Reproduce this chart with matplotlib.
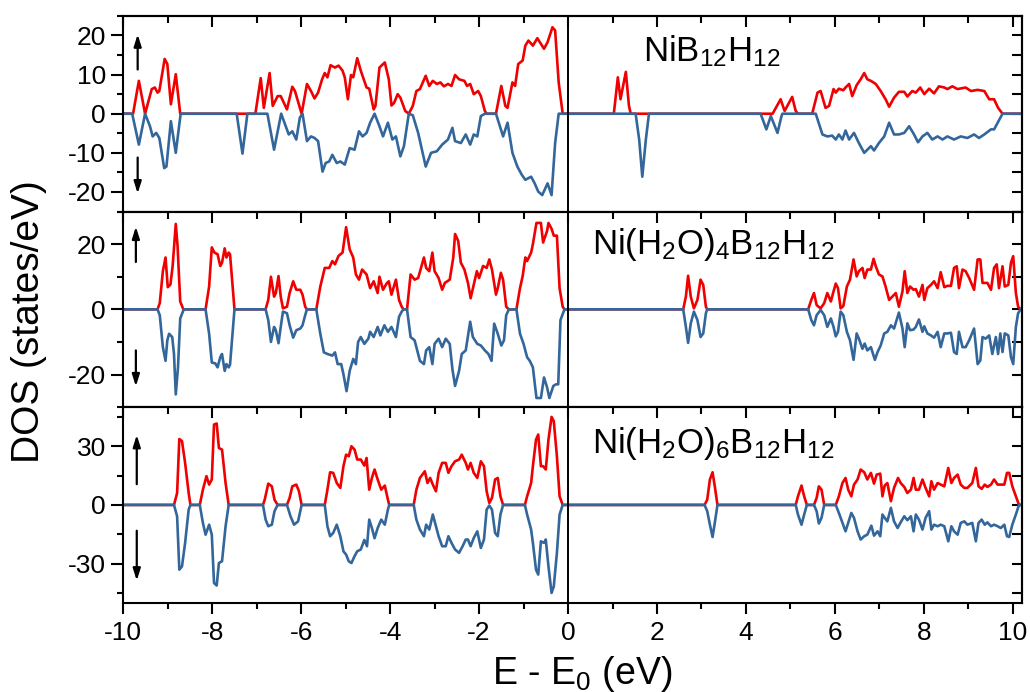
import numpy as np
import matplotlib
matplotlib.use('Agg')
import matplotlib.pyplot as plt
from matplotlib.ticker import MultipleLocator

plt.rcParams['font.family'] = ['Liberation Sans', 'DejaVu Sans']
plt.rcParams['mathtext.default'] = 'regular'
plt.rcParams['axes.unicode_minus'] = False

# spin-resolved DOS, (E - E0 [eV], DOS [states/eV])
# NiB12H12
up1 = [(-10, 0), (-9.78, 0), (-9.65, 8.4), (-9.51, 0), (-9.36, 6.3), (-9.29, 6.7), (-9.23, 5.4), (-9.19, 5.8),
       (-9.07, 14.0), (-9.01, 12.7), (-8.93, 2.4), (-8.82, 10.1), (-8.72, 0), (-7.03, 0), (-6.91, 9.1),
       (-6.84, 1.5), (-6.71, 10.4), (-6.64, 2.0), (-6.53, 4.5), (-6.46, 4.5), (-6.32, 1.1), (-6.20, 6.9),
       (-6.14, 5.8), (-5.99, 0), (-5.87, 7.6), (-5.78, 5.8), (-5.70, 3.9), (-5.62, 5.4), (-5.53, 8.8),
       (-5.47, 10.4), (-5.41, 9.3), (-5.34, 12.4), (-5.24, 11.8), (-5.16, 12.3), (-5.07, 11.0), (-5.02, 9.3),
       (-4.95, 3.7), (-4.88, 9.9), (-4.83, 9.3), (-4.74, 14.2), (-4.66, 11.0), (-4.53, 6.7), (-4.47, 6.4),
       (-4.37, 1.1), (-4.33, 2.0), (-4.24, 11.8), (-4.12, 13.1), (-4.03, 8.8), (-3.97, 2.1), (-3.91, 2.8),
       (-3.83, 5.0), (-3.77, 4.1), (-3.66, 0.7), (-3.58, 0), (-3.49, 2.0), (-3.41, 5.8), (-3.33, 6.3),
       (-3.20, 9.7), (-3.12, 7.1), (-3.04, 8.4), (-2.95, 7.6), (-2.87, 8.0), (-2.79, 7.0), (-2.70, 7.6),
       (-2.62, 7.1), (-2.54, 9.9), (-2.45, 8.8), (-2.33, 8.4), (-2.27, 7.1), (-2.20, 7.6), (-2.12, 5.0),
       (-2.02, 5.8), (-1.96, 4.5), (-1.87, 0.7), (-1.83, 0), (-1.62, 0), (-1.50, 7.1), (-1.41, 2.0),
       (-1.36, 1.5), (-1.25, 8.0), (-1.19, 7.1), (-1.12, 12.7), (-1.02, 13.6), (-0.96, 17.4), (-0.89, 18.7),
       (-0.79, 17.4), (-0.69, 19.3), (-0.54, 16.6), (-0.46, 18.3), (-0.35, 22.1), (-0.29, 21.3), (-0.21, 8.0),
       (-0.12, 0), (1.03, 0), (1.12, 9.3), (1.18, 3.7), (1.30, 10.7), (1.37, 2.0), (1.41, 0), (4.60, 0),
       (4.78, 3.7), (4.87, 0.7), (5.04, 4.3), (5.12, 0.7), (5.17, 0), (5.49, 0), (5.61, 5.4), (5.68, 5.8),
       (5.79, 1.5), (5.87, 2.0), (5.97, 6.3), (6.02, 5.4), (6.09, 6.4), (6.19, 6.0), (6.24, 6.7), (6.32, 7.6),
       (6.39, 4.5), (6.49, 7.3), (6.58, 8.8), (6.66, 10.4), (6.73, 8.8), (6.81, 8.4), (6.92, 7.6), (7.03, 5.8),
       (7.14, 3.7), (7.22, 1.8), (7.33, 4.1), (7.44, 5.6), (7.56, 5.6), (7.63, 4.4), (7.74, 5.8), (7.82, 5.4),
       (7.92, 6.7), (8.01, 5.0), (8.12, 6.4), (8.23, 5.2), (8.34, 7.0), (8.46, 6.7), (8.53, 6.3), (8.64, 7.0),
       (8.76, 6.3), (8.94, 6.7), (9.06, 5.8), (9.21, 6.1), (9.36, 5.8), (9.47, 3.7), (9.58, 3.7), (9.67, 1.5),
       (9.77, 0), (10.2, 0)]
dn1 = [(-10, 0), (-9.80, 0), (-9.65, -7.9), (-9.51, 0), (-9.40, -3.2), (-9.34, -5.8), (-9.26, -4.9),
       (-9.19, -6.2), (-9.08, -13.9), (-9.03, -13.5), (-8.93, -1.9), (-8.82, -10.0), (-8.71, 0), (-7.45, 0),
       (-7.32, -10.2), (-7.21, 0), (-6.76, 0), (-6.61, -9.2), (-6.45, 0), (-6.28, -5.3), (-6.20, -4.5),
       (-6.11, -6.6), (-6.03, -1.0), (-5.97, 0), (-5.87, -7.0), (-5.78, -5.8), (-5.70, -6.2), (-5.62, -7.0),
       (-5.52, -14.8), (-5.45, -12.6), (-5.37, -12.2), (-5.30, -10.5), (-5.20, -12.6), (-5.12, -12.2),
       (-5.02, -13.0), (-4.91, -8.8), (-4.80, -9.2), (-4.70, -4.5), (-4.62, -5.8), (-4.53, -4.9),
       (-4.45, -2.3), (-4.35, 0), (-4.24, -3.2), (-4.16, -5.8), (-4.05, -2.3), (-3.95, -6.6), (-3.87, -5.8),
       (-3.77, -10.9), (-3.69, -8.3), (-3.58, 0), (-3.49, -0.4), (-3.37, -4.9), (-3.20, -13.5), (-3.08, -10.0),
       (-2.95, -9.6), (-2.83, -7.9), (-2.70, -6.6), (-2.60, -3.6), (-2.54, -7.0), (-2.41, -7.5), (-2.30, -5.3),
       (-2.20, -7.9), (-2.12, -5.3), (-2.04, -5.8), (-1.96, -0.6), (-1.87, 0), (-1.62, 0), (-1.46, -5.8),
       (-1.36, -2.3), (-1.25, -10.0), (-1.14, -13.5), (-1.04, -15.6), (-0.96, -16.9), (-0.83, -16.1),
       (-0.75, -17.8), (-0.67, -19.9), (-0.58, -20.8), (-0.46, -17.8), (-0.37, -20.8), (-0.29, -7.5),
       (-0.21, 0), (1.52, 0), (1.60, -6.6), (1.67, -16.1), (1.75, -6.6), (1.82, 0), (4.33, 0), (4.46, -4.0),
       (4.56, -0.6), (4.71, -4.9), (4.80, -0.6), (4.82, 0), (5.57, 0), (5.72, -5.3), (5.83, -5.8), (5.94, -5.6),
       (6.02, -6.6), (6.09, -5.3), (6.17, -6.6), (6.24, -4.3), (6.32, -6.6), (6.43, -4.9), (6.54, -7.5),
       (6.66, -10.0), (6.73, -9.2), (6.81, -8.3), (6.88, -9.4), (6.99, -7.5), (7.11, -5.8), (7.22, -2.3),
       (7.33, -5.3), (7.44, -5.3), (7.56, -4.9), (7.67, -3.2), (7.78, -5.3), (7.87, -7.3), (7.97, -5.8),
       (8.08, -4.9), (8.19, -6.6), (8.31, -5.8), (8.42, -6.6), (8.53, -5.8), (8.68, -6.6), (8.83, -5.8),
       (8.98, -6.2), (9.13, -5.3), (9.24, -6.2), (9.36, -5.3), (9.51, -4.0), (9.58, -4.0), (9.66, -2.3),
       (9.77, 0), (10.2, 0)]

# Ni(H2O)4B12H12
up2 = [(-10, 0), (-9.23, 0), (-9.18, 1.9), (-9.11, 11.7), (-9.05, 15.9), (-9.00, 6.8), (-8.94, 7.6),
       (-8.89, 13.3), (-8.82, 26.2), (-8.78, 19.5), (-8.72, 2.4), (-8.65, 0), (-8.15, 0), (-8.07, 7.0),
       (-8.01, 19.0), (-7.95, 17.4), (-7.88, 16.9), (-7.82, 13.3), (-7.78, 14.3), (-7.72, 18.7), (-7.68, 15.9),
       (-7.63, 17.4), (-7.60, 16.9), (-7.50, 0), (-6.80, 0), (-6.74, 2.9), (-6.68, 10.0), (-6.61, 3.9),
       (-6.57, 5.0), (-6.51, 10.2), (-6.46, 3.9), (-6.41, 0.3), (-6.32, 0.8), (-6.26, 5.0), (-6.18, 8.6),
       (-6.11, 6.0), (-6.02, 6.0), (-5.97, 4.5), (-5.91, 0.8), (-5.87, 0), (-5.66, 0), (-5.57, 7.0),
       (-5.47, 12.7), (-5.37, 12.7), (-5.30, 14.8), (-5.24, 13.8), (-5.16, 16.4), (-5.07, 17.4), (-4.99, 25.2),
       (-4.91, 18.4), (-4.83, 15.9), (-4.77, 10.7), (-4.70, 9.1), (-4.63, 12.2), (-4.53, 10.7), (-4.45, 6.5),
       (-4.37, 8.6), (-4.28, 5.0), (-4.24, 10.0), (-4.16, 6.0), (-4.08, 7.9), (-4.03, 8.6), (-3.97, 4.5),
       (-3.87, 9.1), (-3.80, 2.9), (-3.74, 0.8), (-3.70, 0), (-3.62, 0), (-3.54, 10.7), (-3.45, 9.1),
       (-3.37, 9.6), (-3.24, 15.9), (-3.19, 12.7), (-3.12, 11.7), (-3.05, 17.4), (-3.00, 11.7), (-2.91, 9.6),
       (-2.83, 6.0), (-2.77, 8.1), (-2.66, 9.1), (-2.58, 15.9), (-2.54, 23.1), (-2.47, 21.0), (-2.41, 14.3),
       (-2.33, 12.2), (-2.25, 8.1), (-2.19, 3.4), (-2.12, 7.6), (-2.05, 11.7), (-2.00, 9.6), (-1.91, 13.3),
       (-1.83, 12.7), (-1.77, 15.3), (-1.71, 12.2), (-1.62, 4.5), (-1.58, 6.5), (-1.51, 11.2), (-1.46, 9.1),
       (-1.39, 0.8), (-1.33, 0), (-1.16, 0), (-1.08, 6.5), (-1.02, 10.2), (-0.96, 15.9), (-0.92, 14.8),
       (-0.83, 17.4), (-0.79, 20.0), (-0.71, 26.5), (-0.61, 26.5), (-0.56, 20.5), (-0.47, 24.1), (-0.44, 26.5),
       (-0.37, 24.7), (-0.32, 22.6), (-0.25, 22.6), (-0.19, 6.5), (-0.12, 0.8), (-0.08, 0), (2.59, 0),
       (2.65, 3.9), (2.70, 10.3), (2.76, 3.9), (2.83, 0.3), (2.91, 2.9), (2.98, 9.1), (3.04, 7.5), (3.10, 0.8),
       (3.13, 0), (5.40, 0), (5.47, 2.9), (5.53, 5.0), (5.59, 1.3), (5.68, 0.3), (5.76, 1.9), (5.83, 5.0),
       (5.91, 2.4), (5.97, 5.5), (6.02, 7.9), (6.07, 6.5), (6.13, 0.3), (6.19, 1.0), (6.27, 7.0), (6.34, 9.1),
       (6.42, 15.3), (6.49, 10.1), (6.54, 11.7), (6.62, 12.7), (6.67, 9.6), (6.73, 12.2), (6.81, 12.2),
       (6.87, 15.5), (6.92, 13.2), (6.99, 10.7), (7.07, 10.1), (7.14, 7.0), (7.22, 2.9), (7.29, 3.9),
       (7.37, 5.0), (7.44, 0.8), (7.52, 5.5), (7.57, 11.7), (7.63, 5.0), (7.69, 7.0), (7.77, 6.0), (7.82, 6.2),
       (7.89, 3.9), (7.97, 7.5), (8.01, 2.9), (8.08, 6.5), (8.16, 7.5), (8.23, 8.6), (8.31, 6.5), (8.38, 11.4),
       (8.46, 6.8), (8.53, 7.2), (8.61, 7.2), (8.68, 12.7), (8.74, 13.2), (8.79, 6.5), (8.87, 12.2),
       (8.94, 11.7), (9.02, 9.6), (9.13, 6.0), (9.21, 15.3), (9.27, 15.3), (9.32, 8.1), (9.43, 8.1),
       (9.51, 6.0), (9.58, 12.7), (9.64, 13.8), (9.69, 6.5), (9.77, 13.2), (9.82, 7.0), (9.90, 7.5),
       (9.96, 14.3), (10.01, 16.3), (10.07, 5.0), (10.12, 0.8), (10.18, 0), (10.2, 0)]
dn2 = [(-10, 0), (-9.23, 0), (-9.18, -1.8), (-9.11, -11.6), (-9.05, -15.8), (-9.01, -9.5), (-8.97, -7.5),
       (-8.90, -8.5), (-8.86, -13.7), (-8.82, -26.1), (-8.77, -17.8), (-8.72, -2.8), (-8.64, 0), (-8.15, 0),
       (-8.07, -7.5), (-8.01, -16.3), (-7.93, -16.6), (-7.88, -17.8), (-7.82, -14.7), (-7.78, -13.7),
       (-7.72, -18.9), (-7.68, -16.8), (-7.63, -17.8), (-7.60, -17.0), (-7.50, 0), (-6.80, 0), (-6.74, -3.3),
       (-6.68, -10.0), (-6.61, -5.4), (-6.57, -6.4), (-6.51, -10.4), (-6.46, -5.4), (-6.41, -0.7),
       (-6.32, -1.2), (-6.26, -4.9), (-6.18, -8.7), (-6.11, -6.4), (-6.02, -5.9), (-5.97, -4.9), (-5.91, -1.8),
       (-5.87, 0), (-5.66, 0), (-5.57, -7.5), (-5.49, -13.2), (-5.41, -13.7), (-5.30, -14.2), (-5.24, -13.2),
       (-5.18, -16.8), (-5.10, -16.8), (-5.05, -19.9), (-4.98, -25.1), (-4.91, -18.9), (-4.83, -15.2),
       (-4.77, -16.8), (-4.72, -10.0), (-4.66, -8.5), (-4.58, -10.6), (-4.49, -9.0), (-4.45, -6.9),
       (-4.37, -8.5), (-4.28, -5.4), (-4.22, -8.0), (-4.13, -4.9), (-4.05, -6.9), (-3.97, -5.4), (-3.87, -8.5),
       (-3.80, -2.3), (-3.74, -0.7), (-3.70, 0), (-3.62, 0), (-3.54, -8.5), (-3.45, -9.5), (-3.33, -15.8),
       (-3.24, -16.8), (-3.19, -12.6), (-3.12, -11.6), (-3.05, -16.8), (-3.00, -10.6), (-2.91, -9.0),
       (-2.83, -11.6), (-2.75, -9.0), (-2.66, -10.6), (-2.60, -18.3), (-2.54, -23.5), (-2.45, -18.9),
       (-2.39, -13.7), (-2.30, -12.6), (-2.20, -3.8), (-2.14, -8.5), (-2.04, -10.6), (-1.96, -11.1),
       (-1.87, -12.6), (-1.79, -13.7), (-1.72, -15.8), (-1.66, -4.4), (-1.58, -7.5), (-1.50, -11.1),
       (-1.44, -9.5), (-1.39, -1.8), (-1.33, 0), (-1.16, 0), (-1.08, -7.5), (-1.00, -10.6), (-0.92, -14.7),
       (-0.86, -15.8), (-0.79, -17.8), (-0.71, -27.2), (-0.61, -27.2), (-0.54, -20.9), (-0.47, -24.0),
       (-0.42, -27.2), (-0.33, -23.5), (-0.27, -23.0), (-0.22, -23.0), (-0.17, -3.3), (-0.08, 0), (2.59, 0),
       (2.65, -5.4), (2.70, -10.3), (2.76, -4.3), (2.83, -0.7), (2.91, -3.3), (2.98, -8.5), (3.04, -7.4),
       (3.10, -1.2), (3.13, 0), (5.40, 0), (5.47, -3.3), (5.53, -4.9), (5.59, -1.8), (5.68, -0.2),
       (5.76, -1.8), (5.83, -5.4), (5.91, -2.8), (5.97, -5.4), (6.02, -8.3), (6.07, -6.9), (6.13, -0.7),
       (6.19, -1.8), (6.27, -6.9), (6.34, -9.5), (6.42, -15.5), (6.49, -7.4), (6.54, -9.0), (6.62, -12.1),
       (6.67, -10.5), (6.73, -12.6), (6.81, -11.6), (6.90, -15.5), (6.96, -13.1), (7.03, -11.1), (7.11, -7.4),
       (7.18, -6.9), (7.26, -4.9), (7.33, -5.9), (7.44, -1.0), (7.52, -5.9), (7.57, -11.6), (7.63, -4.3),
       (7.69, -6.4), (7.77, -6.2), (7.82, -5.4), (7.89, -3.1), (7.97, -6.9), (8.01, -5.2), (8.08, -7.4),
       (8.16, -8.0), (8.23, -8.7), (8.31, -6.9), (8.38, -11.6), (8.46, -7.4), (8.53, -7.4), (8.61, -7.2),
       (8.68, -13.1), (8.74, -13.7), (8.79, -6.9), (8.87, -11.6), (8.94, -11.6), (9.02, -9.5), (9.13, -5.9),
       (9.21, -16.8), (9.27, -15.7), (9.32, -8.5), (9.39, -9.0), (9.47, -8.0), (9.54, -13.7), (9.62, -8.5),
       (9.67, -13.7), (9.72, -7.4), (9.77, -13.1), (9.82, -7.4), (9.90, -8.0), (9.96, -14.7), (10.01, -16.8),
       (10.07, -5.4), (10.12, -1.2), (10.18, 0), (10.2, 0)]

# Ni(H2O)6B12H12
up3 = [(-10, 0), (-8.86, 0), (-8.79, 6.1), (-8.74, 33.7), (-8.68, 32.6), (-8.61, 21.5), (-8.53, 6.1),
       (-8.49, 0), (-8.28, 0), (-8.21, 7.8), (-8.13, 14.7), (-8.07, 10.4), (-8.01, 13.0), (-7.96, 41.1),
       (-7.90, 41.6), (-7.85, 29.1), (-7.78, 28.3), (-7.70, 11.2), (-7.63, 0), (-6.86, 0), (-6.82, 2.7),
       (-6.74, 10.9), (-6.66, 9.5), (-6.60, 2.7), (-6.53, 0), (-6.32, 0), (-6.26, 3.6), (-6.20, 9.5),
       (-6.11, 10.4), (-6.05, 7.0), (-5.99, 0), (-5.47, 0), (-5.41, 7.8), (-5.35, 16.7), (-5.28, 16.4),
       (-5.20, 11.2), (-5.12, 8.7), (-5.05, 19.8), (-4.99, 25.7), (-4.93, 24.9), (-4.87, 30.0), (-4.80, 28.3),
       (-4.74, 23.2), (-4.66, 23.2), (-4.58, 20.1), (-4.53, 24.0), (-4.47, 7.8), (-4.41, 13.8), (-4.35, 18.1),
       (-4.28, 13.0), (-4.20, 7.8), (-4.12, 9.9), (-4.05, 2.7), (-4.02, 0), (-3.47, 0), (-3.41, 7.8),
       (-3.33, 13.8), (-3.22, 17.2), (-3.16, 11.2), (-3.10, 13.8), (-3.04, 10.4), (-2.97, 7.0), (-2.91, 16.4),
       (-2.83, 21.5), (-2.75, 21.5), (-2.69, 16.4), (-2.62, 19.8), (-2.54, 22.3), (-2.45, 23.2), (-2.39, 25.7),
       (-2.30, 21.5), (-2.25, 18.1), (-2.19, 21.5), (-2.12, 16.4), (-2.04, 13.8), (-1.96, 22.3), (-1.89, 19.8),
       (-1.83, 7.0), (-1.77, 1.0), (-1.71, 3.6), (-1.64, 13.0), (-1.58, 13.8), (-1.52, 4.4), (-1.46, 0),
       (-0.97, 0), (-0.92, 4.4), (-0.83, 11.2), (-0.79, 19.8), (-0.72, 33.4), (-0.67, 36.0), (-0.61, 19.8),
       (-0.56, 19.8), (-0.50, 18.1), (-0.44, 33.4), (-0.37, 45.0), (-0.32, 42.8), (-0.25, 24.9), (-0.19, 4.4),
       (-0.12, 0), (3.07, 0), (3.13, 2.7), (3.19, 13.0), (3.25, 16.7), (3.30, 9.5), (3.36, 0), (5.12, 0),
       (5.17, 4.4), (5.25, 9.9), (5.31, 4.4), (5.37, 0), (5.53, 0), (5.59, 3.6), (5.64, 9.5), (5.70, 7.8),
       (5.76, 0), (6.02, 0), (6.09, 4.4), (6.17, 11.2), (6.24, 13.8), (6.30, 7.8), (6.37, 4.4), (6.43, 10.4),
       (6.51, 13.0), (6.58, 18.1), (6.66, 16.7), (6.73, 13.0), (6.81, 16.4), (6.88, 10.9), (6.94, 15.5),
       (7.02, 16.0), (7.07, 4.4), (7.12, 9.9), (7.18, 11.2), (7.26, 1.9), (7.33, 8.7), (7.42, 13.8),
       (7.48, 11.2), (7.56, 9.2), (7.63, 6.1), (7.71, 7.8), (7.77, 13.8), (7.82, 7.8), (7.89, 7.8),
       (7.97, 13.0), (8.04, 8.7), (8.12, 4.4), (8.17, 12.1), (8.23, 7.8), (8.31, 11.2), (8.38, 10.4),
       (8.46, 9.5), (8.55, 18.9), (8.62, 11.2), (8.68, 13.8), (8.76, 15.5), (8.83, 10.4), (8.91, 8.7),
       (8.98, 8.7), (9.09, 11.2), (9.17, 18.9), (9.23, 9.5), (9.30, 8.2), (9.37, 10.4), (9.43, 9.2),
       (9.51, 10.4), (9.58, 13.0), (9.66, 10.4), (9.73, 10.4), (9.81, 10.4), (9.87, 16.4), (9.92, 16.4),
       (9.99, 9.5), (10.07, 4.4), (10.14, 0), (10.2, 0)]
dn3 = [(-10, 0), (-8.86, 0), (-8.79, -5.8), (-8.74, -33.1), (-8.68, -31.4), (-8.61, -19.4), (-8.53, -2.4),
       (-8.49, 0), (-8.28, 0), (-8.21, -9.2), (-8.15, -15.2), (-8.07, -10.1), (-8.01, -15.2), (-7.96, -39.9),
       (-7.90, -41.2), (-7.85, -29.7), (-7.78, -28.8), (-7.70, -10.9), (-7.63, 0), (-6.86, 0), (-6.80, -7.5),
       (-6.74, -10.9), (-6.66, -10.1), (-6.60, -3.2), (-6.53, 0), (-6.32, 0), (-6.24, -5.8), (-6.16, -10.1),
       (-6.07, -8.4), (-5.99, 0), (-5.47, 0), (-5.41, -10.9), (-5.35, -16.0), (-5.28, -14.3), (-5.20, -10.1),
       (-5.12, -16.0), (-5.05, -23.7), (-4.99, -25.4), (-4.93, -28.8), (-4.87, -29.7), (-4.80, -26.2),
       (-4.74, -23.7), (-4.66, -22.8), (-4.58, -17.9), (-4.52, -21.1), (-4.47, -7.5), (-4.41, -11.8),
       (-4.35, -17.0), (-4.28, -11.8), (-4.20, -7.5), (-4.12, -10.1), (-4.05, -2.4), (-4.02, 0), (-3.47, 0),
       (-3.41, -7.5), (-3.33, -12.6), (-3.24, -16.0), (-3.19, -10.1), (-3.12, -12.6), (-3.04, -4.9),
       (-2.97, -10.9), (-2.91, -16.0), (-2.83, -21.1), (-2.75, -21.1), (-2.69, -16.0), (-2.62, -19.4),
       (-2.54, -22.8), (-2.45, -24.5), (-2.37, -21.1), (-2.30, -17.7), (-2.25, -17.7), (-2.19, -21.1),
       (-2.12, -16.9), (-2.04, -13.5), (-1.96, -22.0), (-1.89, -17.7), (-1.83, -2.4), (-1.77, -0.3),
       (-1.71, -2.4), (-1.64, -14.3), (-1.58, -16.0), (-1.52, -4.9), (-1.46, 0), (-0.97, 0), (-0.92, -4.9),
       (-0.83, -12.6), (-0.79, -19.4), (-0.72, -33.1), (-0.67, -35.6), (-0.61, -18.6), (-0.54, -19.4),
       (-0.50, -17.7), (-0.44, -31.4), (-0.37, -45.0), (-0.32, -41.6), (-0.25, -24.5), (-0.19, -4.9),
       (-0.12, 0), (3.07, 0), (3.13, -3.2), (3.19, -10.1), (3.25, -16.4), (3.30, -9.2), (3.36, 0), (5.12, 0),
       (5.17, -4.9), (5.25, -10.1), (5.31, -4.9), (5.37, 0), (5.53, 0), (5.59, -3.2), (5.64, -9.5),
       (5.70, -6.6), (5.76, 0), (6.02, 0), (6.09, -4.1), (6.17, -9.2), (6.24, -13.5), (6.30, -9.2),
       (6.37, -4.1), (6.43, -6.6), (6.51, -13.5), (6.58, -17.7), (6.66, -16.0), (6.73, -15.2), (6.82, -10.6),
       (6.88, -15.7), (6.96, -13.5), (7.02, -16.0), (7.07, -4.9), (7.12, -6.6), (7.18, -8.4), (7.26, -1.5),
       (7.33, -8.4), (7.41, -11.8), (7.48, -8.9), (7.56, -5.8), (7.63, -7.8), (7.71, -5.8), (7.77, -13.5),
       (7.82, -4.9), (7.89, -7.5), (7.97, -12.6), (8.04, -6.6), (8.12, -3.2), (8.17, -12.6), (8.23, -10.1),
       (8.31, -10.9), (8.38, -10.1), (8.46, -10.9), (8.55, -18.6), (8.62, -10.9), (8.68, -13.5), (8.76, -15.2),
       (8.83, -9.2), (8.91, -8.4), (8.98, -10.1), (9.09, -9.2), (9.17, -18.6), (9.23, -9.2), (9.30, -7.5),
       (9.37, -10.1), (9.43, -8.9), (9.51, -10.9), (9.58, -10.1), (9.66, -10.9), (9.73, -11.8), (9.81, -10.1),
       (9.87, -16.0), (9.92, -16.4), (9.99, -10.1), (10.07, -4.9), (10.14, 0), (10.2, 0)]

names = ['NiB$_{12}$H$_{12}$', 'Ni(H$_2$O)$_4$B$_{12}$H$_{12}$', 'Ni(H$_2$O)$_6$B$_{12}$H$_{12}$']
ylims = [25, 30, 50]
ymajor = [10, 20, 30]
yminor = [5, 10, 15]

RED = '#f00000'
BLUE = '#33669a'

fig, axes = plt.subplots(3, 1, sharex=True, figsize=(10.3, 6.92), dpi=100)
fig.subplots_adjust(left=0.1197, right=0.9919, bottom=0.129, top=0.977, hspace=0)

# (name position x in eV, baseline y in axes frac), arrow (x, up tail, up head, down tail, down head)
label_pos = [(1.69, 0.77), (0.54, 0.781), (0.55, 0.766)]
arrow_pos = [(0.016, 0.726, 0.906, 0.276, 0.092),
             (0.014, 0.742, 0.923, 0.29, 0.106),
             (0.015, 0.606, 0.858, 0.368, 0.113)]

for i, (ax, up, dn) in enumerate(zip(axes, [up1, up2, up3], [dn1, dn2, dn3])):
    eu, du = np.array(up).T
    ed, dd = np.array(dn).T
    ax.plot(eu, du, color=RED, lw=1.9)
    ax.plot(ed, dd, color=BLUE, lw=1.9)
    ax.axvline(0, color='k', lw=1.4)

    ax.set_xlim(-10, 10.2)
    ax.set_ylim(-ylims[i], ylims[i])
    ax.xaxis.set_major_locator(MultipleLocator(2))
    ax.xaxis.set_minor_locator(MultipleLocator(1))
    ax.yaxis.set_major_locator(MultipleLocator(ymajor[i]))
    ax.yaxis.set_minor_locator(MultipleLocator(yminor[i]))
    for s in ax.spines.values():
        s.set_linewidth(1.5)

    ax.tick_params(axis='y', which='both', direction='out', width=1.5, labelsize=19, pad=4, right=False)
    ax.tick_params(axis='y', which='major', length=8.5)
    ax.tick_params(axis='y', which='minor', length=4.5)
    ax.tick_params(axis='x', which='both', direction='out', width=1.5, labelsize=19, pad=5,
                   top=False, bottom=(i == 2))
    ax.tick_params(axis='x', which='major', length=8)
    ax.tick_params(axis='x', which='minor', length=4.5)

    # inward ticks on top and right
    top = ax.secondary_xaxis('top')
    top.xaxis.set_major_locator(MultipleLocator(2))
    top.xaxis.set_minor_locator(MultipleLocator(1))
    top.tick_params(axis='x', which='both', direction='in', width=1.5, labeltop=False)
    top.tick_params(axis='x', which='major', length=8)
    top.tick_params(axis='x', which='minor', length=5)
    top.spines['top'].set_linewidth(1.5)
    right = ax.secondary_yaxis('right')
    right.yaxis.set_major_locator(MultipleLocator(ymajor[i]))
    right.yaxis.set_minor_locator(MultipleLocator(yminor[i]))
    right.tick_params(axis='y', which='both', direction='in', width=1.5, length=7, labelright=False)
    right.spines['right'].set_linewidth(1.5)

    lx, ly = label_pos[i]
    ax.text(lx, ly, names[i], transform=ax.get_xaxis_transform(), fontsize=25, va='baseline', ha='left')

    ax_x, ut, uh, dt, dh = arrow_pos[i]
    arr = dict(arrowstyle='-|>,head_length=0.7,head_width=0.22', color='k', lw=1.6, shrinkA=0, shrinkB=0)
    ax.annotate('', xy=(ax_x, uh), xytext=(ax_x, ut), xycoords='axes fraction', arrowprops=arr)
    ax.annotate('', xy=(ax_x, dh), xytext=(ax_x, dt), xycoords='axes fraction', arrowprops=arr)

axes[2].set_xticks([-10, -8, -6, -4, -2, 0, 2, 4, 6, 8, 10])

fig.text(0.028, 0.535, 'DOS (states/eV)', rotation=90, fontsize=28, ha='center', va='center')
fig.text(0.565, 0.012, 'E - E$_0$ (eV)', fontsize=27, ha='center', va='baseline')

fig.savefig('out.png', dpi=100)
